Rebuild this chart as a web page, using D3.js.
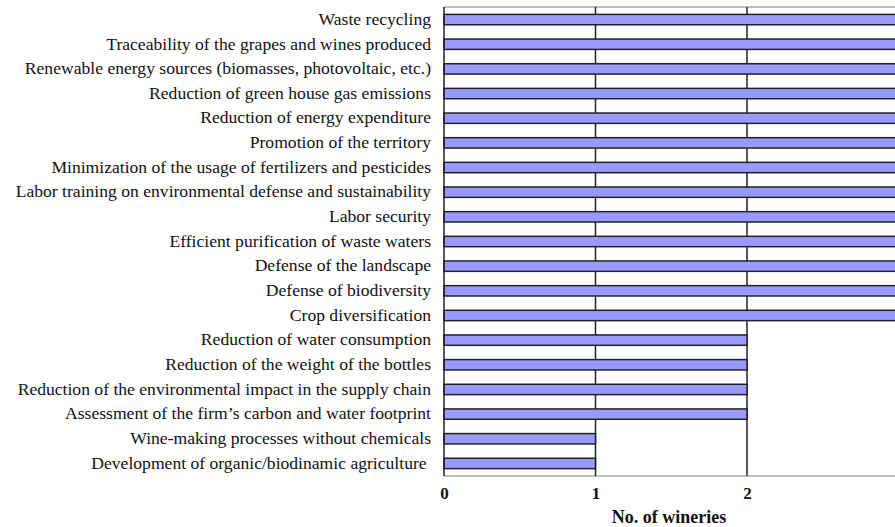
<!DOCTYPE html>
<html>
<head>
<meta charset="utf-8">
<style>
body { margin: 0; background: #fff; }
.label { font-family: "Liberation Serif", "Times New Roman", serif; font-size: 17.6px; text-anchor: end; fill: #111; white-space: pre; }
.title { font-family: "Liberation Serif", "Times New Roman", serif; font-size: 18px; font-weight: bold; text-anchor: middle; fill: #111; }
</style>
</head>
<body>
<svg class="chart"></svg>
<script src="https://d3js.org/d3.v7.min.js"></script>
<script>

var categories = [
  "Waste recycling",
  "Traceability of the grapes and wines produced",
  "Renewable energy sources (biomasses, photovoltaic, etc.)",
  "Reduction of green house gas emissions",
  "Reduction of energy expenditure",
  "Promotion of the territory",
  "Minimization of the usage of fertilizers and pesticides",
  "Labor training on environmental defense and sustainability",
  "Labor security",
  "Efficient purification of waste waters",
  "Defense of the landscape",
  "Defense of biodiversity",
  "Crop diversification",
  "Reduction of water consumption",
  "Reduction of the weight of the bottles",
  "Reduction of the environmental impact in the supply chain",
  "Assessment of the firm\u2019s carbon and water footprint",
  "Wine-making processes without chemicals",
  "Development of organic/biodinamic agriculture "
];
var wineries = [3, 3, 3, 3, 3, 3, 3, 3, 3, 3, 3, 3, 3, 2, 2, 2, 2, 1, 1];
var xTicks = [0, 1, 2, 3];

var width = 895, height = 527;
var plotLeft = 444, plotTop = 7, plotBottom = 476;

var svg = d3.select(".chart").attr("width", width).attr("height", height);

var x = d3.scaleLinear().domain([0, 3]).range([plotLeft, plotLeft + 3 * 151.5]);
var y = d3.scaleBand().domain(categories).range([plotTop, plotBottom]).paddingInner(0.58).paddingOuter(0.3);

// top and bottom frame lines
svg.append("line").attr("x1", plotLeft).attr("x2", width).attr("y1", plotTop).attr("y2", plotTop)
  .attr("stroke", "#aaa").attr("stroke-width", 1.5);
svg.append("line").attr("x1", plotLeft).attr("x2", width).attr("y1", plotBottom).attr("y2", plotBottom)
  .attr("stroke", "#aaa").attr("stroke-width", 1.5);

// vertical grid lines
svg.selectAll(".grid").data(xTicks.slice(1)).enter().append("line")
  .attr("x1", d => x(d)).attr("x2", d => x(d))
  .attr("y1", plotTop).attr("y2", plotBottom)
  .attr("stroke", "#222").attr("stroke-width", 1.5);

svg.selectAll(".bar").data(categories).enter().append("rect")
  .attr("x", x(0))
  .attr("y", d => y(d))
  .attr("width", (d, i) => x(wineries[i]) - x(0))
  .attr("height", y.bandwidth())
  .attr("fill", "#9999ff")
  .attr("stroke", "#222")
  .attr("stroke-width", 1.5);

// left axis line
svg.append("line").attr("x1", plotLeft).attr("x2", plotLeft).attr("y1", plotTop).attr("y2", plotBottom)
  .attr("stroke", "#222").attr("stroke-width", 1.5);

svg.selectAll(".label").data(categories).enter().append("text")
  .attr("class", "label")
  .attr("x", 431)
  .attr("y", d => y(d) + y.bandwidth() / 2)
  .attr("dy", "0.3em")
  .text(d => d);

var xAxis = svg.append("g")
  .attr("transform", `translate(0,${plotBottom})`)
  .call(d3.axisBottom(x).tickValues(xTicks).tickFormat(d3.format("d")).tickSize(0).tickPadding(11));
xAxis.select(".domain").remove();
xAxis.selectAll(".tick text")
  .style("font-family", "'Liberation Serif', 'Times New Roman', serif")
  .style("font-size", "17px")
  .style("font-weight", "bold")
  .attr("fill", "#111");

svg.append("text").attr("class", "title")
  .attr("x", 669).attr("y", 523)
  .text("No. of wineries");

</script>
</body>
</html>
